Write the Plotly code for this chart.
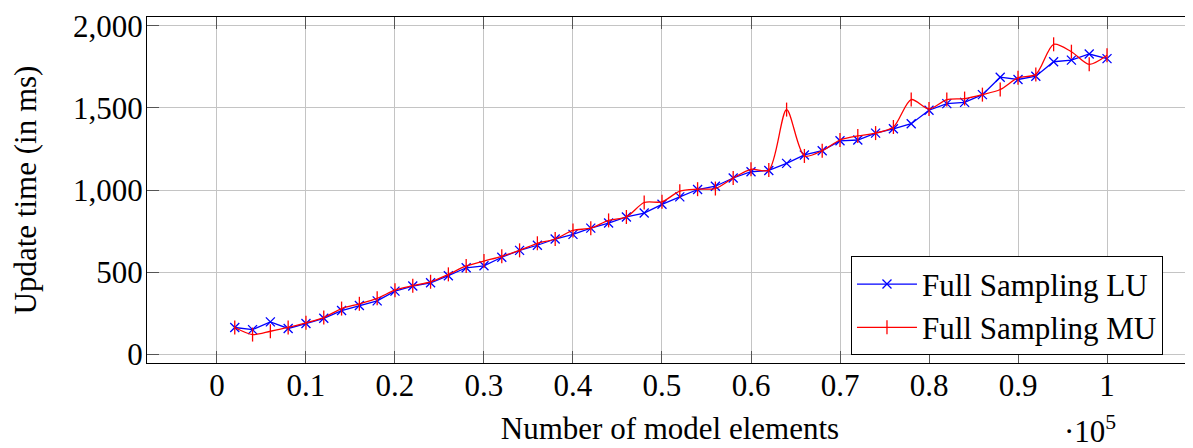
import plotly.graph_objects as go

# Number of model elements
elements = [2000, 4000, 6000, 8000, 10000, 12000, 14000, 16000, 18000, 20000,
            22000, 24000, 26000, 28000, 30000, 32000, 34000, 36000, 38000, 40000,
            42000, 44000, 46000, 48000, 50000, 52000, 54000, 56000, 58000, 60000,
            62000, 64000, 66000, 68000, 70000, 72000, 74000, 76000, 78000, 80000,
            82000, 84000, 86000, 88000, 90000, 92000, 94000, 96000, 98000, 100000]

# Update time (ms)
full_lu = [165, 152, 199, 159, 189, 221, 268, 299, 327, 386,
           417, 437, 480, 528, 540, 592, 634, 665, 703, 731,
           769, 800, 837, 861, 914, 959, 1004, 1024, 1074, 1112,
           1120, 1163, 1214, 1240, 1300, 1305, 1347, 1373, 1404, 1486,
           1526, 1534, 1581, 1687, 1673, 1693, 1781, 1791, 1828, 1800]

full_mu = [165, 122, 142, 165, 193, 225, 280, 309, 342, 392,
           419, 443, 488, 539, 569, 598, 634, 677, 703, 755,
           769, 816, 837, 925, 929, 994, 1006, 1010, 1074, 1127,
           1122, 1490, 1208, 1240, 1305, 1330, 1347, 1384, 1551, 1494,
           1551, 1557, 1581, 1612, 1683, 1704, 1887, 1842, 1765, 1820]

x_ticks = [0, 0.1, 0.2, 0.3, 0.4, 0.5, 0.6, 0.7, 0.8, 0.9, 1]
y_ticks = [0, 500, 1000, 1500, 2000]

scale = 1e5
xs = [e / scale for e in elements]

FONT = "Liberation Serif"
FS = 31

fig = go.Figure()
fig.add_trace(go.Scatter(
    x=xs, y=full_lu, name="Full Sampling LU", mode="lines+markers",
    line=dict(color="#0000ff", width=1.3),
    marker=dict(symbol="x-thin-open", size=9, color="#0000ff",
                line=dict(color="#0000ff", width=1.3)),
))
fig.add_trace(go.Scatter(
    x=xs, y=full_mu, name="Full Sampling MU", mode="lines+markers",
    line=dict(color="#ff0000", width=1.3, shape="spline", smoothing=0.8),
    marker=dict(symbol="line-ns-open", size=10, color="#ff0000",
                line=dict(color="#ff0000", width=1.3)),
))

yr = [-51, 2053]
fig.update_layout(
    width=1185, height=440,
    margin=dict(l=139, r=0, t=9, b=85),
    paper_bgcolor="white", plot_bgcolor="white",
    font=dict(family=FONT, size=FS, color="black"),
    showlegend=True,
    legend=dict(
        x=0.9713, y=0.022, xanchor="right", yanchor="bottom",
        bgcolor="white", bordercolor="black", borderwidth=1,
        font=dict(family=FONT, size=FS, color="black"),
        tracegroupgap=0, itemwidth=60,
    ),
    xaxis=dict(
        range=[-0.0786, 1.0966], tickvals=x_ticks,
        ticktext=[("%g" % v) for v in x_ticks],
        showgrid=True, gridcolor="#c4c4c4", gridwidth=1,
        zeroline=False, showline=True, linecolor="black", linewidth=1.3,
        mirror="ticks", ticks="inside", ticklen=12, tickcolor="#555555", tickwidth=1,
        ticklabelstandoff=-5,
        title=dict(text="Number of model elements", font=dict(size=FS), standoff=14),
    ),
    yaxis=dict(
        range=yr, tickvals=y_ticks,
        tickformat=",d",
        showgrid=True, gridcolor="#c4c4c4", gridwidth=1,
        zeroline=False, showline=True, linecolor="black", linewidth=1.3,
        mirror=False, ticks="inside", ticklen=12, tickcolor="#555555", tickwidth=1,
        ticklabelstandoff=-3,
        title=dict(text="Update time (in ms)", font=dict(size=FS), standoff=30),
    ),
    yaxis2=dict(
        range=yr, tickvals=y_ticks, overlaying="y", side="right",
        showticklabels=False, showgrid=False, zeroline=False, showline=False,
        ticks="inside", ticklen=12, tickcolor="#555555", tickwidth=1,
    ),
)
fig.add_annotation(
    text="·10<sup>5</sup>", xref="paper", yref="paper",
    x=0.8748, y=-0.193, xanchor="left", yanchor="middle",
    showarrow=False, font=dict(family=FONT, size=FS, color="black"),
)

fig.write_html("out.html")
